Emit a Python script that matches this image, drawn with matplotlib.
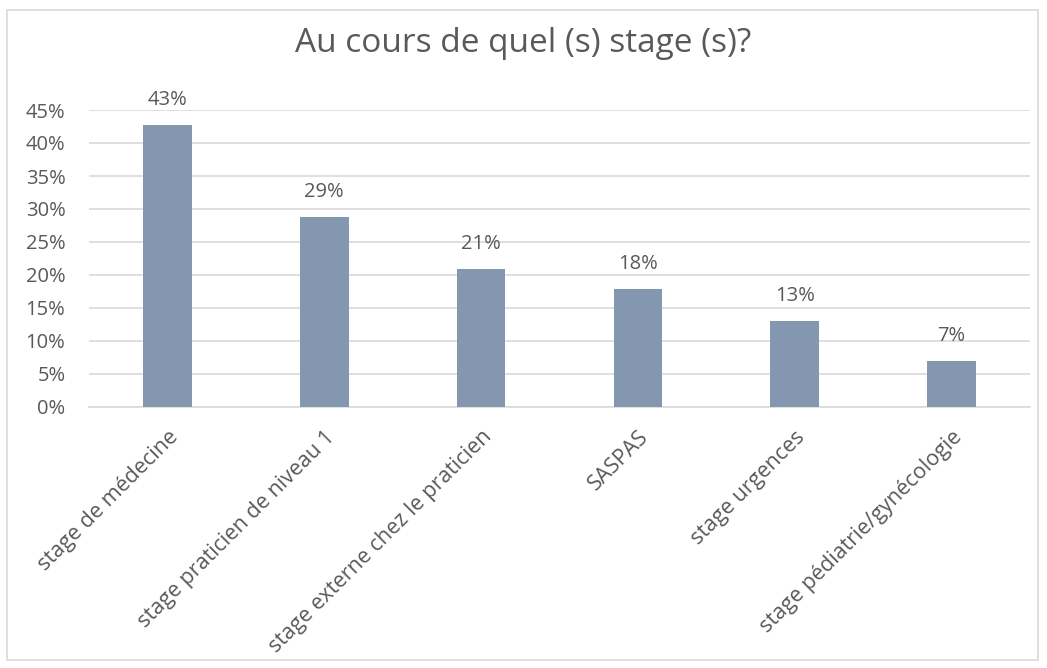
import matplotlib
matplotlib.use("Agg")
import matplotlib.pyplot as plt
from matplotlib.patches import Rectangle
from matplotlib.ticker import MultipleLocator, FuncFormatter

categories = ['stage de médecine', 'stage praticien de niveau 1',
              'stage externe chez le praticien', 'SASPAS',
              'stage urgences', 'stage pédiatrie/gynécologie']
values = [0.427, 0.288, 0.209, 0.179, 0.130, 0.070]
labels = ['43%', '29%', '21%', '18%', '13%', '7%']

plt.rcParams['font.family'] = ['Open Sans', 'DejaVu Sans']
text_color = '#595959'
bar_color = '#8497B0'
grid_color = '#D9D9D9'

fig = plt.figure(figsize=(10.47, 6.68), dpi=100)
fig.patches.append(Rectangle((0.007, 0.012), 0.984, 0.973, transform=fig.transFigure,
                             fill=False, edgecolor=grid_color, linewidth=1.2))
ax = fig.add_axes([89 / 1047, 1 - 407 / 668, (1030 - 89) / 1047, (407 - 110) / 668])

x = range(len(categories))
ax.bar(x, values, width=0.31, color=bar_color, zorder=3)
for xi, v, lab in zip(x, values, labels):
    ax.annotate(lab, (xi, v), xytext=(0, 11), textcoords='offset points',
                ha='center', va='bottom', fontsize=14.5, color=text_color)

ax.set_xlim(-0.5, len(categories) - 0.5)
ax.set_ylim(0, 0.45)
ax.yaxis.set_major_locator(MultipleLocator(0.05))
ax.yaxis.set_major_formatter(FuncFormatter(lambda v, p: f'{round(v * 100)}%'))
ax.grid(axis='y', color=grid_color, linewidth=1.2, zorder=0)
for s in ['top', 'right', 'left']:
    ax.spines[s].set_visible(False)
ax.spines['bottom'].set_color(grid_color)
ax.spines['bottom'].set_linewidth(1.2)
ax.tick_params(axis='both', length=0, colors=text_color)
ax.tick_params(axis='y', pad=17, labelsize=14.5)
ax.set_xticks(list(x))
ax.set_xticklabels(categories, rotation=45, ha='right', rotation_mode='anchor')
ax.tick_params(axis='x', pad=14, labelsize=15.5)

fig.suptitle('Au cours de quel (s) stage (s)?', y=0.96, fontsize=24, color=text_color)

fig.savefig('out.png', dpi=100)
